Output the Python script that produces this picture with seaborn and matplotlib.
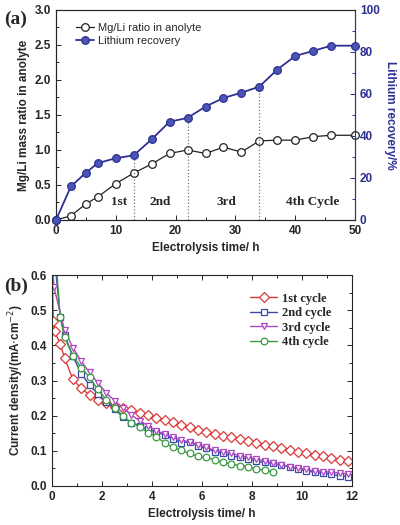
import numpy as np
import pandas as pd
import matplotlib
matplotlib.use("Agg")
import matplotlib.pyplot as plt
import seaborn as sns
from matplotlib.ticker import MultipleLocator

sns.set_style("ticks")
plt.rcParams['font.family'] = ['Liberation Sans', 'DejaVu Sans']

# ---- panel (a) data ----
time_a = [0, 2.5, 5, 7, 10, 13, 16, 19, 22, 25, 28, 31, 34, 37, 40, 43, 46, 50]
mgli_ratio = [0, 0.06, 0.23, 0.33, 0.52, 0.67, 0.80, 0.95, 1.00, 0.95, 1.04, 0.97,
              1.13, 1.14, 1.14, 1.19, 1.21, 1.21]
li_recovery = [0, 16.0, 22.5, 27.1, 29.4, 30.8, 38.4, 46.8, 48.6, 54.0, 58.1, 60.6,
               63.5, 71.6, 78.1, 80.5, 83.0, 83.0]
cycle_ends = [13, 22, 34]
cycle_labels = ["1st", "2nd", "3rd", "4th Cycle"]
cycle_label_x = [10.5, 17.5, 28.5, 43]

# ---- panel (b) data ----
time_b = [0.83, 1.17, 1.5, 1.83, 2.17, 2.5, 2.83, 3.17, 3.5, 3.83, 4.17, 4.5, 4.83,
          5.17, 5.5, 5.83, 6.17, 6.5, 6.83, 7.17, 7.5, 7.83, 8.17, 8.5, 8.83, 9.17,
          9.5, 9.83, 10.17, 10.5, 10.83, 11.17, 11.5, 11.83]
c1_t = [0, 0.05, 0.1, 0.33, 0.5] + time_b
c1_j = [0.65, 0.47, 0.44, 0.404, 0.365, 0.304, 0.278, 0.259, 0.245, 0.236, 0.226,
        0.222, 0.216, 0.207, 0.201, 0.194, 0.187, 0.181, 0.173, 0.167, 0.160, 0.155,
        0.149, 0.143, 0.138, 0.134, 0.128, 0.123, 0.118, 0.113, 0.107, 0.102, 0.098,
        0.094, 0.089, 0.084, 0.079, 0.074, 0.070]
c2_t = [0.1, 0.33, 0.5] + time_b
c2_j = [0.65, 0.48, 0.43, 0.37, 0.32, 0.287, 0.262, 0.240, 0.219, 0.197, 0.180,
        0.172, 0.161, 0.154, 0.145, 0.134, 0.123, 0.126, 0.115, 0.107, 0.098, 0.093,
        0.085, 0.082, 0.077, 0.070, 0.067, 0.064, 0.059, 0.055, 0.049, 0.043, 0.039,
        0.036, 0.033, 0.029, 0.027]
c3_t = [0.03, 0.08, 0.5] + time_b
c3_j = [0.62, 0.565, 0.444, 0.394, 0.355, 0.323, 0.294, 0.265, 0.243, 0.223, 0.202,
        0.186, 0.172, 0.157, 0.148, 0.138, 0.131, 0.125, 0.117, 0.110, 0.102, 0.098,
        0.093, 0.086, 0.082, 0.077, 0.071, 0.064, 0.061, 0.055, 0.050, 0.047, 0.043,
        0.041, 0.039, 0.037, 0.035]
c4_t = [0.15, 0.33, 0.5] + time_b[:25]
c4_j = [0.65, 0.48, 0.423, 0.371, 0.337, 0.309, 0.275, 0.246, 0.223, 0.200, 0.180,
        0.169, 0.152, 0.140, 0.123, 0.110, 0.101, 0.093, 0.084, 0.082, 0.074, 0.068,
        0.063, 0.058, 0.055, 0.048, 0.045, 0.040]
cycle_names = ["1st cycle", "2nd cycle", "3rd cycle", "4th cycle"]
cycle_colors = ["#d93a3a", "#3b4aa8", "#b246c4", "#3b9a45"]
cycle_markers = ["D", "s", "v", "o"]

navy = "#2e3192"
serif_bold = dict(family="Liberation Serif", weight="bold")

fig = plt.figure(figsize=(4, 5.25), dpi=100)

# ---------- (a) ----------
ax = fig.add_axes([0.14, 0.581, 0.7475, 0.40])
ax2 = ax.twinx()
sns.lineplot(x=time_a, y=mgli_ratio, ax=ax, color="#222222", marker="o",
             markersize=5.5, markerfacecolor="white", markeredgecolor="#222222",
             markeredgewidth=0.9, linewidth=0.9, label="Mg/Li ratio in anolyte",
             legend=False, clip_on=False, zorder=3)
sns.lineplot(x=time_a, y=li_recovery, ax=ax2, color=navy, marker="o",
             markersize=5.5, markerfacecolor="#4a55b5", markeredgecolor=navy,
             markeredgewidth=0.9, linewidth=1.3, label="Lithium recovery",
             legend=False, clip_on=False, zorder=3)
for xe in cycle_ends:
    yv = li_recovery[time_a.index(xe)]
    ax2.plot([xe, xe], [0, yv], color="#777777", linestyle=":", linewidth=0.9)
for lab, xl in zip(cycle_labels, cycle_label_x):
    ax.text(xl, 0.25, lab, ha="center", va="center", fontsize=9.5, **serif_bold)

ax.set_xlim(0, 50)
ax.set_ylim(0, 3.0)
ax2.set_ylim(0, 100)
ax.xaxis.set_major_locator(MultipleLocator(10))
ax.xaxis.set_minor_locator(MultipleLocator(5))
ax.yaxis.set_major_locator(MultipleLocator(0.5))
ax.yaxis.set_minor_locator(MultipleLocator(0.25))
ax2.yaxis.set_major_locator(MultipleLocator(20))
ax2.yaxis.set_minor_locator(MultipleLocator(10))
ax.set_xlabel("Electrolysis time/ h", fontsize=8.5, fontweight="bold", labelpad=4)
ax.set_ylabel("Mg/Li mass ratio in anolyte", fontsize=8.5, fontweight="bold", labelpad=3)
ax2.set_ylabel("Lithium recovery/%", fontsize=8.5, fontweight="bold", color=navy,
               rotation=270, labelpad=12)
ax.tick_params(which="both", direction="in", labelsize=8.5, width=0.7)
ax.tick_params(which="major", length=3.5)
ax.tick_params(which="minor", length=2)
ax2.tick_params(which="both", direction="in", labelsize=8.5, width=0.7, colors=navy)
ax2.tick_params(which="major", length=3.5)
ax2.tick_params(which="minor", length=2)
for t in ax.get_xticklabels() + ax.get_yticklabels() + ax2.get_yticklabels():
    t.set_fontweight("bold")
ax2.spines["right"].set_color(navy)
for sp in ax.spines.values():
    sp.set_linewidth(0.8)
for sp in ax2.spines.values():
    sp.set_linewidth(0.8)
h1, l1 = ax.get_legend_handles_labels()
h2, l2 = ax2.get_legend_handles_labels()
ax.legend(h1 + h2, l1 + l2, loc="upper left", frameon=False, fontsize=8,
          handlelength=1.6, handletextpad=0.4, borderaxespad=0.3, labelspacing=0.3,
          bbox_to_anchor=(0.04, 0.975))
fig.text(0.01, 0.955, "(a)", fontsize=14, **serif_bold)

# ---------- (b) ----------
bx = fig.add_axes([0.13, 0.0743, 0.75, 0.4017])
series = [(c1_t, c1_j), (c2_t, c2_j), (c3_t, c3_j), (c4_t, c4_j)]
for (tt, jj), name, col, mk in zip(series, cycle_names, cycle_colors, cycle_markers):
    sns.lineplot(x=tt, y=jj, ax=bx, color=col, marker=mk, markersize=4.8,
                 markerfacecolor="white", markeredgecolor=col, markeredgewidth=0.9,
                 linewidth=1.0, label=name)
bx.set_xlim(0, 12)
bx.set_ylim(0, 0.6)
bx.xaxis.set_major_locator(MultipleLocator(2))
bx.xaxis.set_minor_locator(MultipleLocator(1))
bx.yaxis.set_major_locator(MultipleLocator(0.1))
bx.yaxis.set_minor_locator(MultipleLocator(0.05))
bx.set_xlabel("Electrolysis time/ h", fontsize=8.5, fontweight="bold", labelpad=4)
bx.set_ylabel("Current density/(mA$\\cdot$cm$^{-2}$)", fontsize=8.5,
              fontweight="bold", labelpad=3)
bx.tick_params(which="both", direction="in", labelsize=8.5, width=0.7,
               top=True, right=True)
bx.tick_params(which="major", length=3.5)
bx.tick_params(which="minor", length=2)
for t in bx.get_xticklabels() + bx.get_yticklabels():
    t.set_fontweight("bold")
for sp in bx.spines.values():
    sp.set_linewidth(0.8)
bx.legend(loc="upper right", frameon=False, prop=dict(family="Liberation Serif",
          weight="bold", size=9), handlelength=2.2, handletextpad=0.4,
          labelspacing=0.2, bbox_to_anchor=(0.97, 0.97))
fig.text(0.01, 0.445, "(b)", fontsize=14, **serif_bold)

fig.savefig("out.png", dpi=100)
